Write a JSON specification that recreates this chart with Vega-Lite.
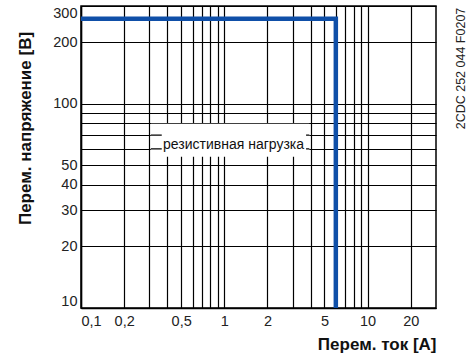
{
  "$schema": "https://vega.github.io/schema/vega-lite/v6.json",
  "width": 355,
  "height": 302,
  "autosize": {"type": "none"},
  "padding": {"left": 81, "top": 6, "right": 30, "bottom": 50},
  "background": "white",
  "config": {
    "view": {"stroke": "#000", "strokeWidth": 1.5},
    "font": "Liberation Sans"
  },
  "datasets": {
    "curve": [
      {"I": 0.1, "U": 260},
      {"I": 6, "U": 260},
      {"I": 6, "U": 10}
    ],
    "hlines": [{"U": 60}, {"U": 70}],
    "one": [{}]
  },
  "resolve": {"axis": {"y": "independent"}},
  "layer": [
    {
      "data": {"name": "one"},
      "mark": {"type": "rect", "fill": "white", "stroke": null},
      "encoding": {
        "x": {
          "datum": 0.307,
          "type": "quantitative",
          "scale": {"type": "log", "domain": [0.1, 30], "nice": false},
          "axis": {
            "values": [0.1, 0.2, 0.3, 0.4, 0.5, 0.6, 0.7, 0.8, 0.9, 1, 2, 3, 4, 5, 6, 7, 8, 9, 10, 20],
            "format": "~g",
            "labelExpr": "indexof([0.1, 0.2, 0.5, 1, 2, 5, 10, 20], datum.value) >= 0 ? replace(datum.label, '.', ',') : ''",
            "grid": true,
            "gridColor": "#000",
            "gridWidth": 1.2,
            "gridOpacity": 1,
            "ticks": false,
            "tickSize": 0,
            "domain": true,
            "domainColor": "#000",
            "domainWidth": 1.5,
            "labelFont": "Liberation Sans",
            "labelFontSize": 14.5,
            "labelColor": "#222",
            "labelPadding": 6,
            "labelFlush": true,
            "labelOverlap": false,
            "title": "Перем. ток [А]",
            "titleFont": "Liberation Sans",
            "titleFontSize": 17,
            "titleFontWeight": "bold",
            "titleColor": "#111",
            "titleAnchor": "end",
            "titleAlign": "right",
            "titleBaseline": "alphabetic",
            "titleX": 355,
            "titleY": 41
          }
        },
        "x2": {"datum": 3.92},
        "y": {
          "datum": 55,
          "type": "quantitative",
          "scale": {"type": "log", "domain": [10, 300], "nice": false},
          "axis": {
            "values": [10, 20, 30, 40, 50, 60, 70, 80, 90, 100, 200, 300],
            "format": "~g",
            "labelExpr": "indexof([10, 20, 30, 40, 50, 100, 200, 300], datum.value) >= 0 ? datum.label : ''",
            "grid": true,
            "gridColor": "#000",
            "gridWidth": 1.2,
            "gridOpacity": 1,
            "ticks": false,
            "tickSize": 0,
            "domain": true,
            "domainColor": "#000",
            "domainWidth": 1.5,
            "labelFont": "Liberation Sans",
            "labelFontSize": 14.5,
            "labelColor": "#222",
            "labelPadding": 4,
            "labelFlush": true,
            "labelOverlap": false,
            "title": "Перем. напряжение [В]",
            "titleFont": "Liberation Sans",
            "titleFontSize": 17,
            "titleFontWeight": "bold",
            "titleColor": "#111",
            "titleAngle": 270,
            "titleAlign": "center",
            "titleBaseline": "middle",
            "titleX": -56,
            "titleY": 122
          }
        },
        "y2": {"datum": 79.6}
      }
    },
    {
      "data": {"name": "hlines"},
      "mark": {"type": "rule", "color": "#000", "strokeWidth": 1.2},
      "encoding": {
        "x": {"datum": 0.307, "type": "quantitative", "scale": {"type": "log"}},
        "x2": {"datum": 3.92},
        "y": {"field": "U", "type": "quantitative", "scale": {"type": "log"}, "axis": null}
      }
    },
    {
      "data": {"name": "one"},
      "mark": {"type": "rect", "fill": "white", "stroke": null},
      "encoding": {
        "x": {"datum": 0.366, "type": "quantitative", "scale": {"type": "log"}},
        "x2": {"datum": 3.72},
        "y": {"datum": 57, "type": "quantitative", "scale": {"type": "log"}, "axis": null},
        "y2": {"datum": 73}
      }
    },
    {
      "data": {"name": "one"},
      "mark": {
        "type": "text",
        "font": "Liberation Sans",
        "fontSize": 14,
        "color": "#111",
        "align": "center",
        "baseline": "alphabetic",
        "dy": 0
      },
      "encoding": {
        "x": {"datum": 1.16, "type": "quantitative", "scale": {"type": "log"}},
        "y": {"datum": 60, "type": "quantitative", "scale": {"type": "log"}, "axis": null},
        "text": {"value": "резистивная нагрузка"}
      }
    },
    {
      "data": {"name": "curve"},
      "mark": {
        "type": "line",
        "color": "#0f4fa8",
        "strokeWidth": 4.5,
        "strokeJoin": "miter",
        "strokeCap": "butt"
      },
      "encoding": {
        "x": {"field": "I", "type": "quantitative", "scale": {"type": "log"}},
        "y": {
          "field": "U",
          "type": "quantitative",
          "scale": {"type": "log"},
          "axis": {
            "orient": "right",
            "labels": false,
            "ticks": false,
            "domain": false,
            "grid": false,
            "title": "2CDC 252 044 F0207",
            "titleFont": "Liberation Sans",
            "titleFontSize": 12.5,
            "titleFontWeight": "normal",
            "titleColor": "#222",
            "titleAngle": 270,
            "titleAlign": "center",
            "titleBaseline": "middle",
            "titleX": 24,
            "titleY": 62
          }
        },
        "order": {"value": null}
      }
    }
  ]
}
